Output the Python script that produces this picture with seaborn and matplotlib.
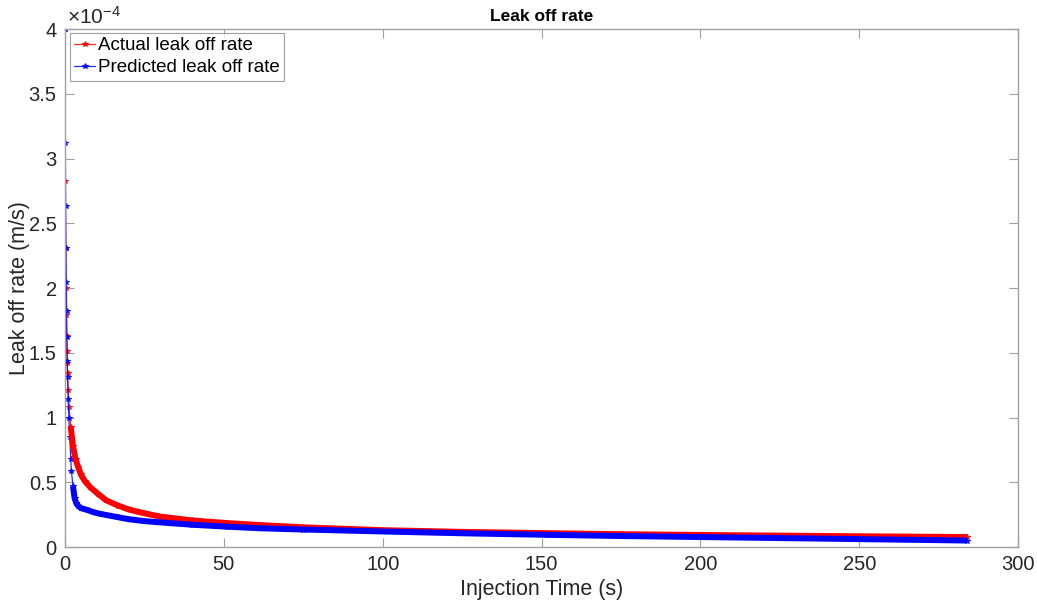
import numpy as np
import pandas as pd
import matplotlib
matplotlib.use("Agg")
import matplotlib.pyplot as plt
import seaborn as sns
from matplotlib.ticker import FuncFormatter, MultipleLocator

# Leak off rate samples, in units of 1e-4 m/s
time_actual = [0, 0.1, 0.2, 0.3, 0.4, 0.5, 0.6, 0.7, 0.8, 1.0, 1.3, 1.8, 2.5,
               3.3, 4.1, 5.0, 6.2, 8.0, 10.4, 13, 16.7, 20, 25, 30, 40, 51, 61,
               75, 100, 125, 152, 175, 200, 225, 250, 284]
rate_actual = [4.0, 2.83, 2.31, 2.0, 1.79, 1.63, 1.51, 1.42, 1.34, 1.21, 1.08,
               0.93, 0.78, 0.68, 0.62, 0.56, 0.51, 0.46, 0.41, 0.36, 0.32, 0.29,
               0.26, 0.235, 0.205, 0.185, 0.17, 0.152, 0.13, 0.117, 0.107,
               0.099, 0.093, 0.088, 0.083, 0.077]

time_pred = [0, 0.1, 0.2, 0.3, 0.4, 0.5, 0.6, 0.7, 0.8, 1.0, 1.2, 1.5, 1.8, 2.0,
             2.5, 3.0, 3.5, 4.1, 5.0, 7.2, 9.0, 11.3, 16.7, 20, 25, 30, 40, 51,
             61, 75, 100, 125, 152, 175, 200, 225, 250, 284]
rate_pred = [4.0, 3.12, 2.63, 2.31, 2.05, 1.82, 1.62, 1.44, 1.31, 1.14, 1.0,
             0.85, 0.68, 0.59, 0.47, 0.38, 0.34, 0.32, 0.30, 0.285, 0.268,
             0.255, 0.23, 0.215, 0.20, 0.19, 0.172, 0.157, 0.145, 0.135, 0.12,
             0.106, 0.094, 0.085, 0.077, 0.069, 0.061, 0.05]

actual = pd.DataFrame({"t": time_actual, "q": np.array(rate_actual) * 1e-4})
pred = pd.DataFrame({"t": time_pred, "q": np.array(rate_pred) * 1e-4})

sns.set_theme(style="white")
plt.rcParams["font.family"] = ["Liberation Sans", "DejaVu Sans"]
plt.rcParams["mathtext.fontset"] = "custom"
plt.rcParams["mathtext.rm"] = "Liberation Sans"

RED = "#ff0000"
BLUE = "#0000ff"
SPINE = "#a0a0a0"
TEXT = "#262626"

fig = plt.figure(figsize=(10.37, 6.08), dpi=100)
ax = fig.add_axes([0.0627, 0.1003, 0.9190, 0.8520])

# thin lines with markers for every sample
sns.lineplot(data=actual, x="t", y="q", ax=ax, color=RED, linewidth=0.9,
             marker="*", markersize=4, markeredgecolor=RED, markerfacecolor=RED,
             label="Actual leak off rate", alpha=0.85)
sns.lineplot(data=pred, x="t", y="q", ax=ax, color=BLUE, linewidth=0.9,
             marker="*", markersize=4, markeredgecolor=BLUE, markerfacecolor=BLUE,
             label="Predicted leak off rate", alpha=0.85)

# dense sampling merges the markers into a solid band further along the curve
sns.lineplot(data=actual[actual.t >= 1.8], x="t", y="q", ax=ax, color=RED,
             linewidth=4.3, legend=False, solid_capstyle="butt")
sns.lineplot(data=pred[pred.t >= 2.5], x="t", y="q", ax=ax, color=BLUE,
             linewidth=4.3, legend=False, solid_capstyle="butt")

ax.set_xlim(0, 300)
ax.set_ylim(0, 4e-4)
ax.xaxis.set_major_locator(MultipleLocator(50))
ax.yaxis.set_major_locator(MultipleLocator(0.5e-4))
ax.yaxis.set_major_formatter(FuncFormatter(lambda v, _: f"{v / 1e-4:g}"))

for s in ax.spines.values():
    s.set_color(SPINE)
    s.set_linewidth(1.0)
ax.tick_params(axis="both", which="major", direction="in", length=6.5,
               width=0.8, color=SPINE, labelsize=14.5, labelcolor=TEXT, pad=6,
               top=True, right=True, bottom=True, left=True)

ax.set_xlabel("Injection Time (s)", fontsize=15.5, color=TEXT, labelpad=3)
ax.set_ylabel("Leak off rate (m/s)", fontsize=15.5, color=TEXT, labelpad=-1)
ax.set_title("Leak off rate", fontsize=12.5, fontweight="bold", color="black", pad=6)

ax.text(0.002, 1.002, r"$\times\mathregular{10^{-4}}$", transform=ax.transAxes,
        ha="left", va="bottom", fontsize=15, color=TEXT)

leg = ax.legend(loc="upper left", bbox_to_anchor=(0.005, 0.993), fontsize=13.5,
                frameon=True, fancybox=False, edgecolor="#888888",
                borderpad=0.25, labelspacing=0.25, handlelength=1.1,
                handletextpad=0.15, borderaxespad=0.0)
leg.get_frame().set_linewidth(0.8)
for t in leg.get_texts():
    t.set_color("black")

fig.savefig("out.png", dpi=100, facecolor="white")
